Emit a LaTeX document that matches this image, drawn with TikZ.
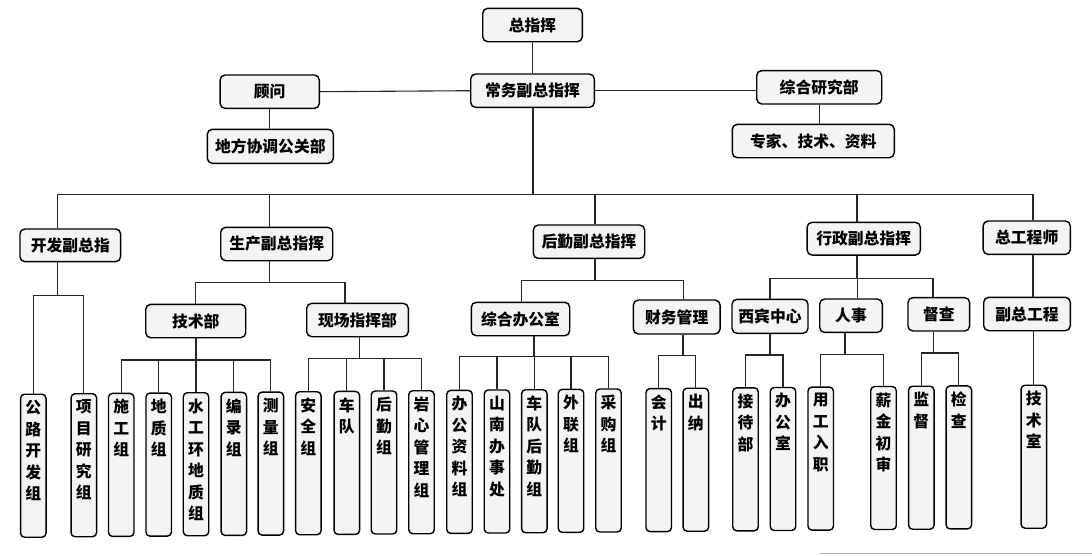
\documentclass[tikz,border=0pt]{standalone}
\usepackage{fontspec}
\setmainfont{Noto Sans CJK SC}
\tikzset{
  box/.style={draw=black, line width=1.4pt, rounded corners=5pt, fill=gray!9, inner sep=0pt,
    font=\bfseries\fontsize{15.8}{18}\selectfont, minimum height=33.4pt},
  leaf/.style={draw=black, line width=1.4pt, rounded corners=4pt, fill=gray!9, inner xsep=0pt,
    inner ysep=6pt, minimum width=25.5pt, minimum height=143pt, anchor=north},
  conn/.style={line width=1.1pt, draw=black!85},
  scanline/.style={line width=1.2pt, draw=gray!60}
}
\newcommand{\vtxt}[1]{\parbox[t][131pt][t]{25pt}{\centering\bfseries\fontsize{15.8}{21.5}\selectfont #1}}
\begin{document}
\begin{tikzpicture}[x=1pt,y=-1pt]
\useasboundingbox (0,0) rectangle (1092,555);
% top tier
\node[box, minimum width=99.6pt] (zzh) at (532.5,25) {总指挥};
\node[box, minimum width=123.6pt] (cw) at (532.5,90.7) {常务副总指挥};
\node[box, minimum width=99.3pt] (gw) at (269.7,91.7) {顾问};
\node[box, minimum width=126pt, minimum height=34pt] (df) at (270.3,146.3) {地方协调公关部};
\node[box, minimum width=125pt] (zy) at (819.2,87.3) {综合研究部};
\node[box, minimum width=162pt] (zj) at (813.3,141) {专家、技术、资料};
% second tier
\node[box, minimum width=100.7pt, minimum height=32.7pt] (kf) at (70.3,245.3) {开发副总指};
\node[box, minimum width=112pt] (sc) at (276.7,244) {生产副总指挥};
\node[box, minimum width=111.4pt] (hq) at (589,241.7) {后勤副总指挥};
\node[box, minimum width=113.3pt, minimum height=32.7pt] (xz) at (863.7,238.7) {行政副总指挥};
\node[box, minimum width=87.3pt] (zg) at (1026.7,237.7) {总工程师};
% third tier
\node[box, minimum width=100pt] (js) at (195.7,321) {技术部};
\node[box, minimum width=101.6pt] (xc) at (357.5,320) {现场指挥部};
\node[box, minimum width=98.4pt] (zb) at (520.5,319) {综合办公室};
\node[box, minimum width=86.7pt, minimum height=34pt] (cwg) at (676.7,317) {财务管理};
\node[box, minimum width=76pt, minimum height=34pt] (xb) at (770,316.3) {西宾中心};
\node[box, minimum width=62.6pt] (rs) at (851,315.7) {人事};
\node[box, minimum width=61.7pt] (dc) at (938.8,314.3) {督查};
\node[box, minimum width=86.6pt] (fz) at (1027,314) {副总工程};
% leaves
\node[leaf] (l1) at (33.3,393.5) {\vtxt{公\\路\\开\\发\\组}};
\node[leaf] (l2) at (83.8,393.0) {\vtxt{项\\目\\研\\究\\组}};
\node[leaf] (l3) at (121.2,392.7) {\vtxt{施\\工\\组}};
\node[leaf] (l4) at (158.7,392.4) {\vtxt{地\\质\\组}};
\node[leaf] (l5) at (196,392.0) {\vtxt{水\\工\\环\\地\\质\\组}};
\node[leaf] (l6) at (233.8,391.7) {\vtxt{编\\录\\组}};
\node[leaf] (l7) at (270.8,391.4) {\vtxt{测\\量\\组}};
\node[leaf] (l8) at (308.3,391.0) {\vtxt{安\\全\\组}};
\node[leaf] (l9) at (346.8,390.7) {\vtxt{车\\队}};
\node[leaf] (l10) at (384,390.3) {\vtxt{后\\勤\\组}};
\node[leaf] (l11) at (421.5,390.0) {\vtxt{岩\\心\\管\\理\\组}};
\node[leaf] (l12) at (459.5,389.7) {\vtxt{办\\公\\资\\料\\组}};
\node[leaf] (l13) at (497,389.3) {\vtxt{山\\南\\办\\事\\处}};
\node[leaf] (l14) at (534.3,389.0) {\vtxt{车\\队\\后\\勤\\组}};
\node[leaf] (l15) at (571,388.7) {\vtxt{外\\联\\组}};
\node[leaf] (l16) at (608.5,388.3) {\vtxt{采\\购\\组}};
\node[leaf] (l17) at (658.7,387.9) {\vtxt{会\\计}};
\node[leaf] (l18) at (695.8,387.5) {\vtxt{出\\纳}};
\node[leaf] (l19) at (745.5,387.1) {\vtxt{接\\待\\部}};
\node[leaf] (l20) at (783,386.8) {\vtxt{办\\公\\室}};
\node[leaf] (l21) at (820.7,386.4) {\vtxt{用\\工\\入\\职}};
\node[leaf] (l22) at (883.5,385.8) {\vtxt{薪\\金\\初\\审}};
\node[leaf] (l23) at (921.3,385.5) {\vtxt{监\\督}};
\node[leaf] (l24) at (958.8,385.2) {\vtxt{检\\查}};
\node[leaf] (l25) at (1033.8,384.5) {\vtxt{技\\术\\室}};
% top connectors
\draw[conn] (zzh) -- (cw);
\draw[conn] (gw.east) -- (cw.west);
\draw[conn] (cw.east) -- (cw.east -| zy.west);
\draw[conn] (gw.south) -- (gw.south |- df.north);
\draw[conn] (zy.south) -- (zy.south |- zj.north);
% main bus
\coordinate (mb) at ([xshift=0.5pt,yshift=-86.6pt]cw.south);
\draw[conn] ([xshift=0.5pt]cw.south) -- (mb);
\draw[conn] (mb) -| ([xshift=-12.6pt]kf.north);
\draw[conn] (mb) -| ([xshift=-7.4pt]sc.north);
\draw[conn] (mb) -| ([xshift=6pt]hq.north);
\draw[conn] (mb) -| ([xshift=-6.7pt]xz.north);
\draw[conn] (mb) -| ([xshift=6.3pt]zg.north);
% second-tier buses
\coordinate (scb) at ([xshift=-7.4pt,yshift=-21pt]sc.south);
\draw[conn] ([xshift=-7.4pt]sc.south) -- (scb);
\draw[conn] (scb) -| (js.north);
\draw[conn] (scb) -| ([xshift=-12.5pt]xc.north);
\coordinate (hqb) at ([xshift=6pt,yshift=-21.6pt]hq.south);
\draw[conn] ([xshift=6pt]hq.south) -- (hqb);
\draw[conn] (hqb) -| ([xshift=0.8pt]zb.north);
\draw[conn] (hqb) -| ([xshift=6.6pt]cwg.north);
\coordinate (xzb) at ([xshift=-6.7pt,yshift=-22.4pt]xz.south);
\draw[conn] ([xshift=-6.7pt]xz.south) -- (xzb);
\draw[conn] (xzb) -| (xb.north);
\draw[conn] (xzb) -| ([xshift=6.3pt]rs.north);
\draw[conn] (xzb) -| ([xshift=-5.8pt]dc.north);
\draw[conn] ([xshift=6.3pt]zg.south) -- ([xshift=6pt]fz.north);
% leaf buses
\coordinate (kfb) at ([xshift=-12.6pt,yshift=-33.3pt]kf.south);
\draw[conn] ([xshift=-12.6pt]kf.south) -- (kfb);
\foreach \c in {l1,l2} \draw[conn] (kfb) -| (\c.north);
\coordinate (jsb) at ([xshift=0.3pt,yshift=-21.6pt]js.south);
\draw[conn] ([xshift=0.3pt]js.south) -- (jsb);
\foreach \c in {l3,l4,l5,l6,l7} \draw[conn] (jsb) -| (\c.north);
\coordinate (xcb) at ([xshift=1.8pt,yshift=-20.8pt]xc.south);
\draw[conn] ([xshift=1.8pt]xc.south) -- (xcb);
\foreach \c in {l8,l9,l10,l11} \draw[conn] (xcb) -| (\c.north);
\coordinate (zbb) at ([xshift=13.5pt,yshift=-20.3pt]zb.south);
\draw[conn] ([xshift=13.5pt]zb.south) -- (zbb);
\foreach \c in {l12,l13,l14,l15,l16} \draw[conn] (zbb) -| (\c.north);
\coordinate (cwb) at ([xshift=6.3pt,yshift=-21pt]cwg.south);
\draw[conn] ([xshift=6.3pt]cwg.south) -- (cwb);
\foreach \c in {l17,l18} \draw[conn] (cwb) -| (\c.north);
\coordinate (xbb) at ([yshift=-21pt]xb.south);
\draw[conn] (xb.south) -- (xbb);
\foreach \c in {l19,l20} \draw[conn] (xbb) -| (\c.north);
\coordinate (rsb) at ([xshift=-6pt,yshift=-21pt]rs.south);
\draw[conn] ([xshift=-6pt]rs.south) -- (rsb);
\foreach \c in {l21,l22} \draw[conn] (rsb) -| (\c.north);
\coordinate (dcb) at ([xshift=-5.1pt,yshift=-21.3pt]dc.south);
\draw[conn] ([xshift=-5.1pt]dc.south) -- (dcb);
\foreach \c in {l23,l24} \draw[conn] (dcb) -| (\c.north);
\draw[conn] (fz.south -| l25.north) -- (l25.north);
% scan edge at the bottom
\draw[scanline] (820,553.3) -- (1092,553.3);
\end{tikzpicture}
\end{document}
